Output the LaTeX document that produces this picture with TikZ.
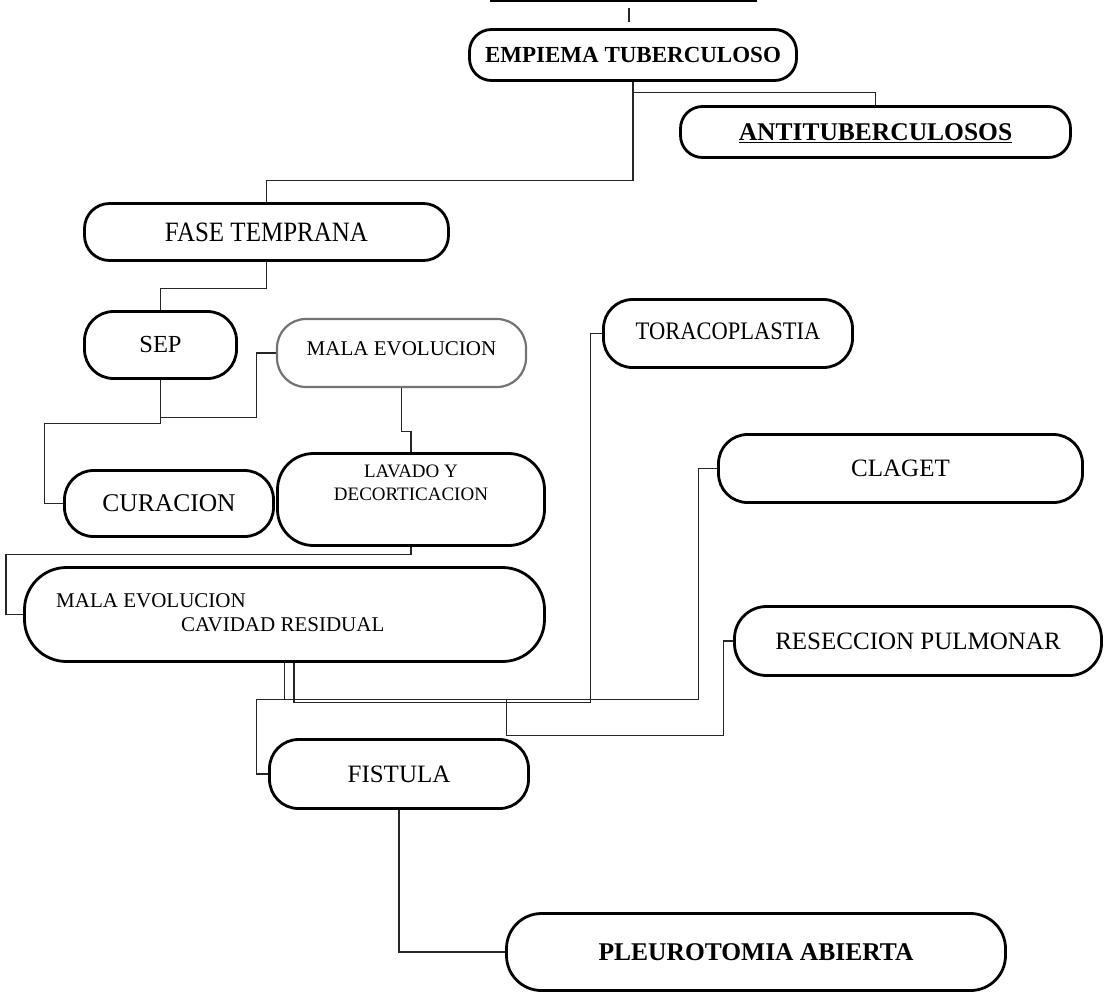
\documentclass[tikz,border=0pt]{standalone}
\usepackage{fontspec}
\usepackage{graphicx}
\setmainfont{Liberation Serif}
\usetikzlibrary{calc}
\newcommand{\alto}[1]{\scalebox{1}[1.12]{#1}}

\begin{document}
\begin{tikzpicture}[x=1pt, y=-1pt,
  caja/.style={draw, line width=2.8pt, rounded corners=22pt, inner sep=0pt, align=center},
  conector/.style={draw=black!85, line width=1.1pt}]
\useasboundingbox (0,0) rectangle (1109,994);

% cabecera cortada
\coordinate (rayaA) at (490,1);
\coordinate (rayaB) at (757,1);
\coordinate (marcaA) at (629,8);
\coordinate (marcaB) at (629,22);

 \node[caja, minimum width=327pt, minimum height=51pt, font=\bfseries\fontsize{23}{26}\selectfont] (emp) at (633,55) {EMPIEMA TUBERCULOSO};
 \node[caja, minimum width=390pt, minimum height=51pt, text depth=0pt, font=\bfseries\fontsize{25.5}{28}\selectfont] (anti) at (875.5,132) {\underline{ANTITUBERCULOSOS}};

 \node[caja, rounded corners=25pt, minimum width=364pt, minimum height=57pt, font=\fontsize{25}{28}\selectfont] (fase) at (266.5,232) {\alto{FASE TEMPRANA}};
 \node[caja, rounded corners=29pt, minimum width=152pt, minimum height=67pt, font=\fontsize{24.5}{28}\selectfont] (sep) at (160.5,345) {SEP};
 \node[caja, draw=black!55, line width=2.2pt, rounded corners=29pt, minimum width=249pt, minimum height=68pt, text depth=8pt, font=\fontsize{21}{24}\selectfont] (mala) at (401.5,353) {MALA EVOLUCION};

 \node[caja, rounded corners=29pt, minimum width=209pt, minimum height=66pt, font=\fontsize{25.5}{28}\selectfont] (cura) at (169,503.5) {CURACION};
 \node[caja, rounded corners=36pt, minimum width=267pt, minimum height=92pt, text depth=33pt, font=\fontsize{19}{23}\selectfont] (lav) at (411,499.5) {LAVADO Y\\DECORTICACION};

 \node[caja, rounded corners=42pt, minimum width=520pt, minimum height=94pt] (cav) at (284.5,614.5) {};
 \node[anchor=west, inner sep=0pt, align=left, font=\fontsize{21}{24}\selectfont] (cavtxt) at (56,613) {MALA EVOLUCION\\\hspace*{125pt}CAVIDAD RESIDUAL};

 \node[caja, rounded corners=29pt, minimum width=249pt, minimum height=68pt, text depth=5pt, font=\fontsize{22.5}{26}\selectfont] (tora) at (728,333.5) {\alto{TORACOPLASTIA}};
 \node[caja, rounded corners=29pt, minimum width=364pt, minimum height=68pt, font=\fontsize{25}{28}\selectfont] (clag) at (900.5,468.5) {CLAGET};
 \node[caja, rounded corners=32pt, minimum width=367pt, minimum height=69pt, font=\fontsize{25}{28}\selectfont] (rese) at (918,641) {RESECCION PULMONAR};
 \node[caja, rounded corners=29pt, minimum width=259pt, minimum height=69pt, font=\fontsize{25}{28}\selectfont] (fis) at (399,774) {FISTULA};
 \node[caja, rounded corners=35pt, minimum width=499pt, minimum height=77pt, font=\bfseries\fontsize{25.5}{28}\selectfont] (pleu) at (756,952) {PLEUROTOMIA ABIERTA};

\draw[line width=2pt] (rayaA) -- (rayaB);
\draw[conector] (marcaA) -- (marcaB);

\draw[conector] (emp.south) -- ++(0,11) -| (anti.north);
\draw[conector] (emp.south) -- ++(0,99) -| (fase.north);
\draw[conector] (fase.south) -- ++(0,27) -| (sep.north);
\draw[conector] (sep.south) -- ++(0,38) -- ++(96,0) |- (mala.west);
\draw[conector] (sep.south) -- ++(0,44) -- ++(-116,0) |- (cura.west);
\draw[conector] (mala.south) -- ++(0,43) -| (lav.north);
\draw[conector] (lav.south) -- ++(0,8) -- ++(-405,0) |- (cav.west);

% ramas de la cavidad residual
\draw[conector] (cav.south) -- ++(0,37) coordinate (nudo) -- ++(-28,0) |- (fis.west);
\draw[conector] (nudo) -- ++(414,0) |- (clag.west);
\draw[conector] (nudo) ++(222,0) -- ++(0,36) -- ++(217,0) |- (rese.west);
\draw[conector] ([xshift=9.5pt]cav.south) -- ++(0,40) -- ++(296.5,0) |- (tora.west);
\draw[conector] (fis.south) |- (pleu.west);
\end{tikzpicture}
\end{document}
